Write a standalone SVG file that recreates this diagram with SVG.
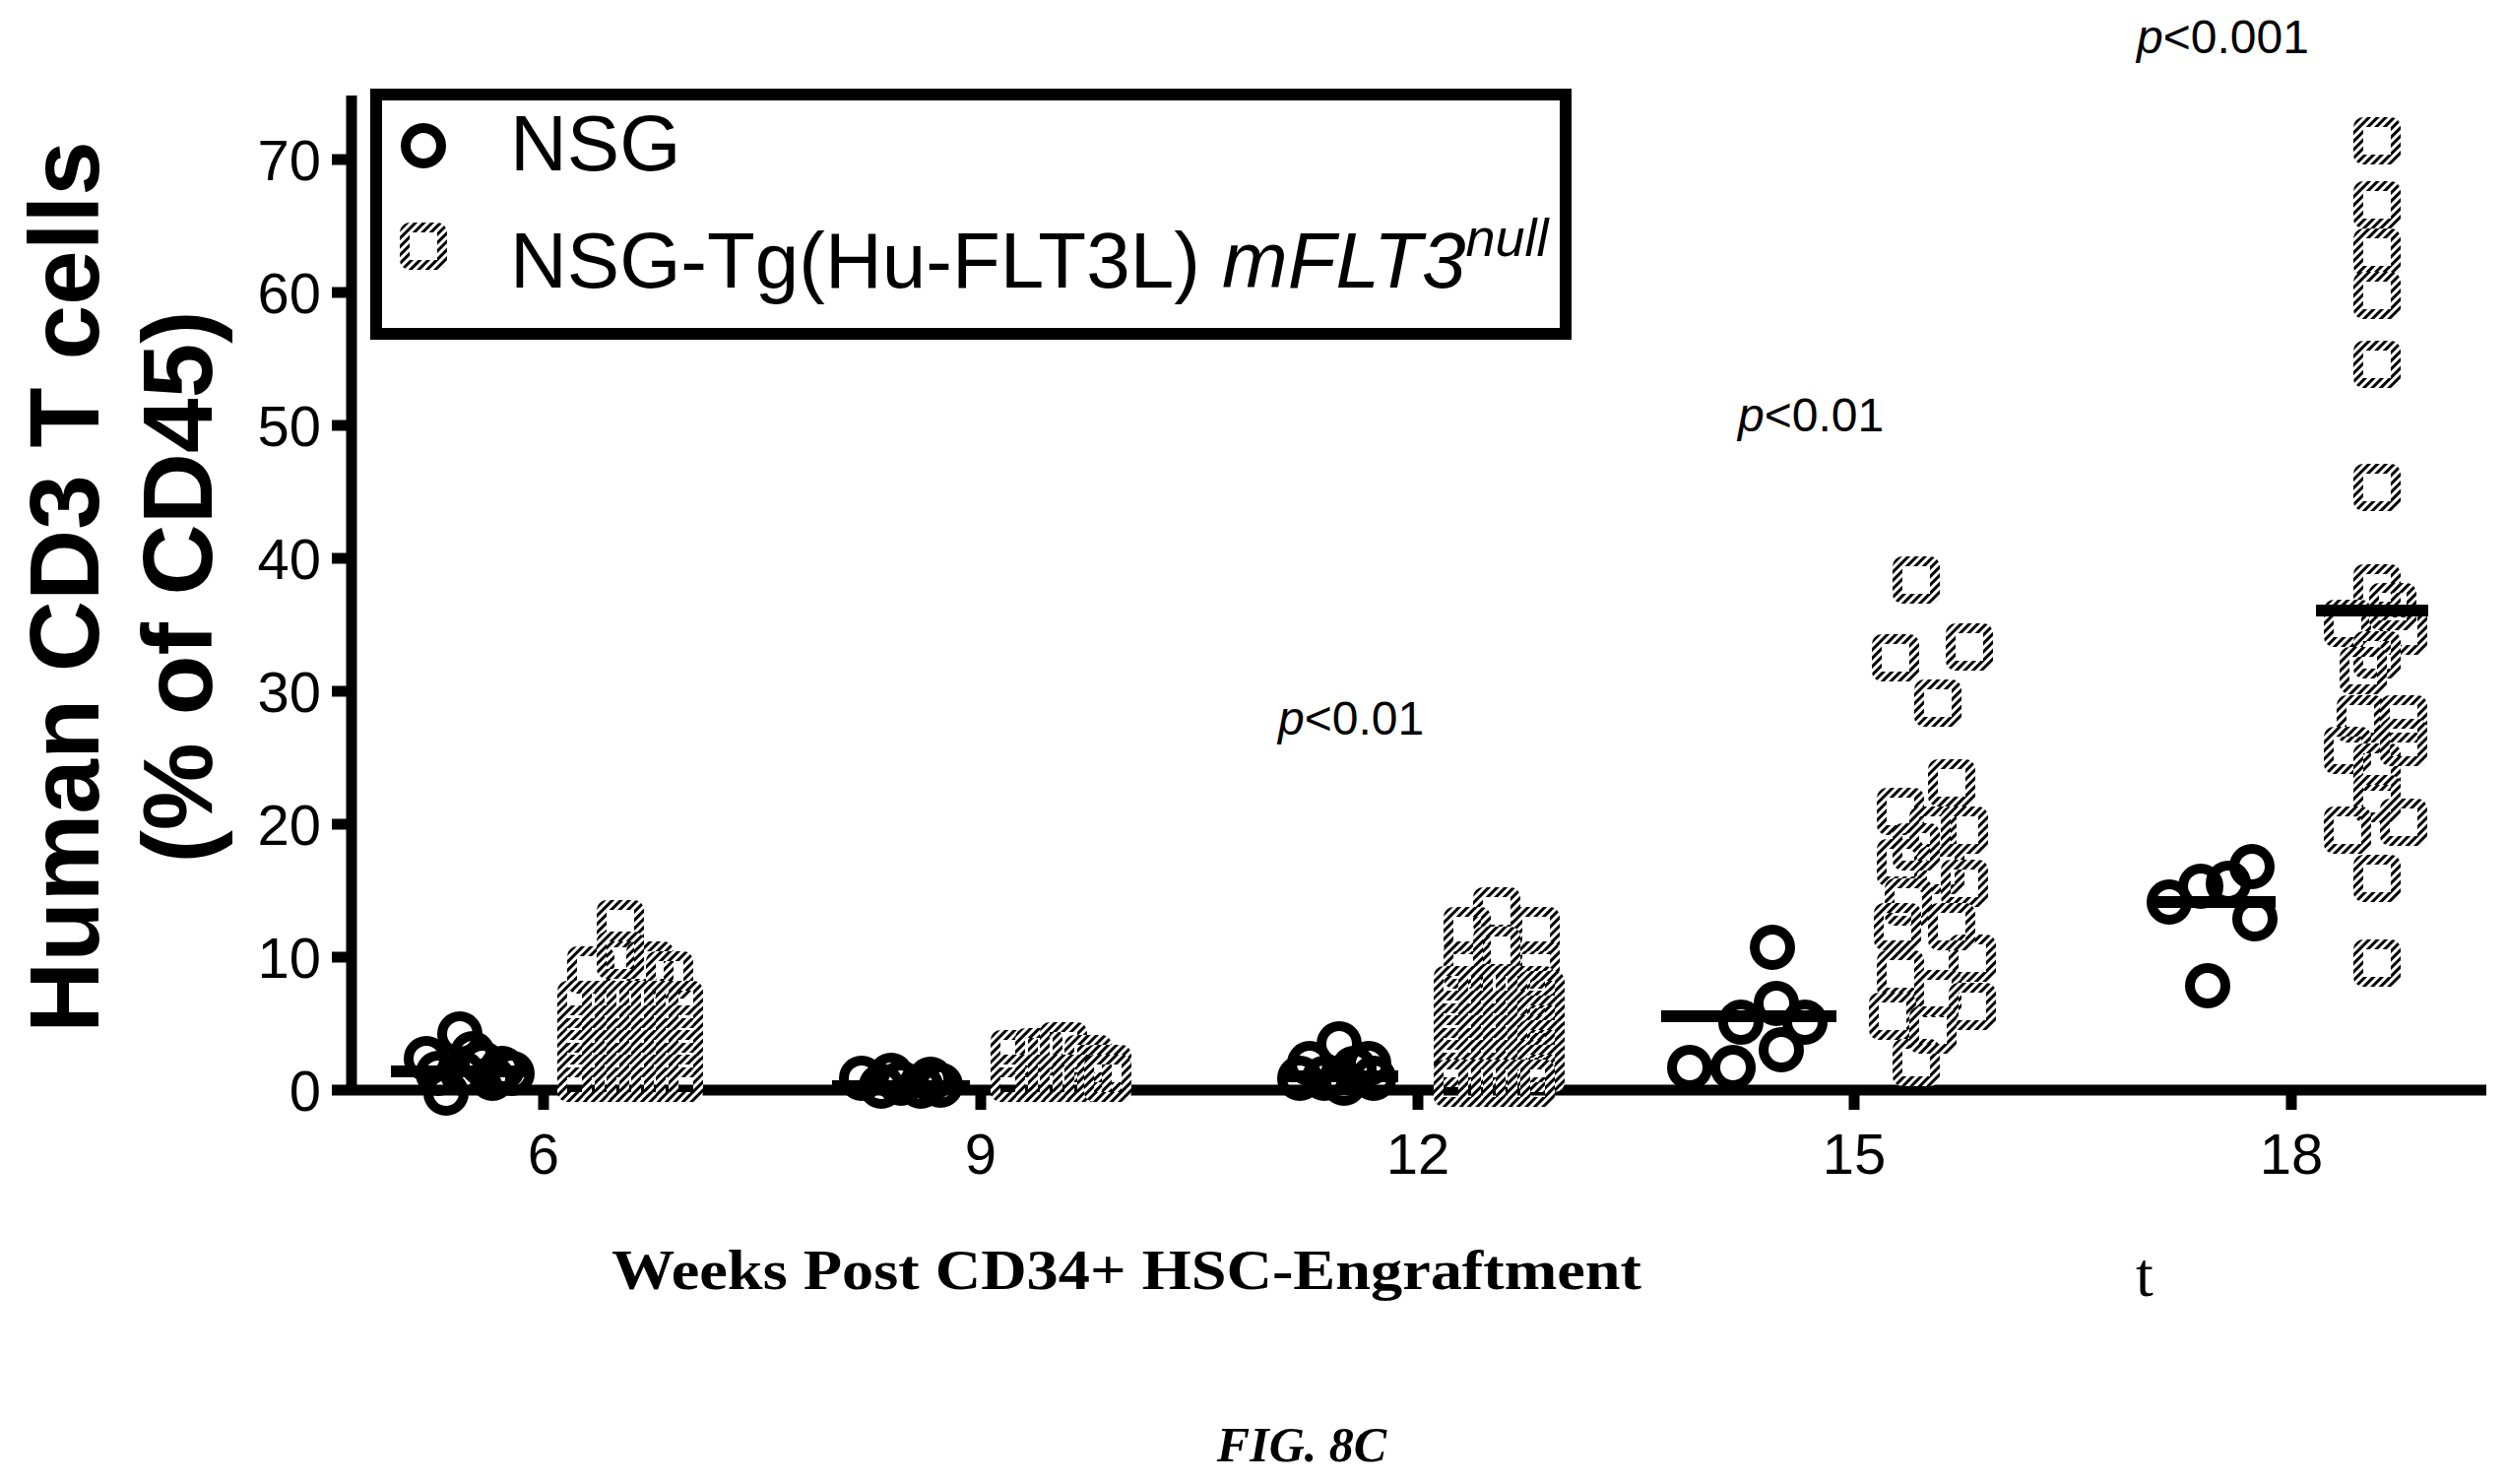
<svg xmlns="http://www.w3.org/2000/svg" xmlns:xlink="http://www.w3.org/1999/xlink" width="2546" height="1507" viewBox="0 0 2546 1507">
<style>
.ax{stroke:#000;stroke-width:11;fill:none}
.tk{font-family:"Liberation Sans",Arial,sans-serif;font-size:58px;fill:#000}
.pv{font-family:"Liberation Sans",Arial,sans-serif;font-size:48px;fill:#000}
.lg{font-family:"Liberation Sans",Arial,sans-serif;font-size:80px;fill:#000}
.mean{stroke:#000;stroke-width:12}
</style>
<defs>
<pattern id="hatch" patternUnits="userSpaceOnUse" width="6" height="6" patternTransform="rotate(45)">
<rect width="6" height="6" fill="#fff"/>
<rect width="3" height="6" fill="#000"/>
</pattern>
<rect id="sq" x="-19" y="-19" width="38" height="38" rx="5" fill="none" stroke="url(#hatch)" stroke-width="10"/>
<circle id="ci" r="18" fill="none" stroke="#000" stroke-width="10"/>
</defs>
<rect width="2546" height="1507" fill="#fff"/>

<g id="axes">
<line class="ax" x1="357" y1="97" x2="357" y2="1112"/>
<line class="ax" x1="337" y1="1107" x2="2525" y2="1107"/>
<g class="ax">
<line x1="337" y1="162" x2="357" y2="162"/><line x1="337" y1="297" x2="357" y2="297"/><line x1="337" y1="432" x2="357" y2="432"/><line x1="337" y1="567" x2="357" y2="567"/><line x1="337" y1="702" x2="357" y2="702"/><line x1="337" y1="837" x2="357" y2="837"/><line x1="337" y1="972" x2="357" y2="972"/>
<line x1="552" y1="1107" x2="552" y2="1127"/><line x1="996" y1="1107" x2="996" y2="1127"/><line x1="1440" y1="1107" x2="1440" y2="1127"/><line x1="1883" y1="1107" x2="1883" y2="1127"/><line x1="2327" y1="1107" x2="2327" y2="1127"/>
</g>
<g class="tk" text-anchor="end">
<text x="326" y="183">70</text><text x="326" y="318">60</text><text x="326" y="453">50</text><text x="326" y="588">40</text><text x="326" y="723">30</text><text x="326" y="858">20</text><text x="326" y="993">10</text><text x="326" y="1128">0</text>
</g>
<g class="tk" text-anchor="middle">
<text x="552" y="1192">6</text><text x="996" y="1192">9</text><text x="1440" y="1192">12</text><text x="1883" y="1192">15</text><text x="2327" y="1192">18</text>
</g>
<g font-family="Liberation Sans,Arial,sans-serif" font-weight="bold" font-size="100" text-anchor="middle" fill="#000">
<text transform="translate(100,596) rotate(-90)">Human CD3 T cells</text>
<text transform="translate(215,596) rotate(-90)">(% of CD45)</text>
</g>
<text x="1144" y="1309" text-anchor="middle" font-family="Liberation Serif,Times New Roman,serif" font-weight="bold" font-size="58" textLength="1046" lengthAdjust="spacingAndGlyphs">Weeks Post CD34+ HSC-Engraftment</text>
<text x="2169" y="1316" font-family="Liberation Serif,serif" font-size="64">t</text>
<text x="1322" y="1484" text-anchor="middle" font-family="Liberation Serif,Times New Roman,serif" font-weight="bold" font-style="italic" font-size="50">FIG. 8C</text>
</g>

<g id="legend">
<rect x="382" y="96" width="1208" height="243" fill="none" stroke="#000" stroke-width="12"/>
<use href="#ci" x="430" y="148"/>
<use href="#sq" x="430" y="250"/>
<text class="lg" x="518" y="173">NSG</text>
<text class="lg" x="518" y="292">NSG-Tg(Hu-FLT3L) <tspan font-style="italic">mFLT3</tspan><tspan font-style="italic" font-size="54" dy="-32">null</tspan></text>
</g>

<g id="pvalues" class="pv">
<text x="1298" y="746"><tspan font-style="italic">p</tspan>&lt;0.01</text>
<text x="1765" y="438"><tspan font-style="italic">p</tspan>&lt;0.01</text>
<text x="2170" y="54"><tspan font-style="italic">p</tspan>&lt;0.001</text>
</g>

<g id="nsg">
<use href="#ci" x="467" y="1050"/><use href="#ci" x="433" y="1075"/><use href="#ci" x="453" y="1110"/><use href="#ci" x="490" y="1080"/><use href="#ci" x="510" y="1085"/><use href="#ci" x="470" y="1090"/><use href="#ci" x="445" y="1090"/><use href="#ci" x="500" y="1095"/><use href="#ci" x="520" y="1090"/><use href="#ci" x="480" y="1070"/>
<use href="#ci" x="875" y="1095"/><use href="#ci" x="895" y="1103"/><use href="#ci" x="915" y="1100"/><use href="#ci" x="935" y="1103"/><use href="#ci" x="955" y="1102"/><use href="#ci" x="905" y="1092"/><use href="#ci" x="945" y="1096"/>
<use href="#ci" x="1360" y="1060"/><use href="#ci" x="1330" y="1080"/><use href="#ci" x="1345" y="1095"/><use href="#ci" x="1375" y="1085"/><use href="#ci" x="1395" y="1095"/><use href="#ci" x="1320" y="1095"/><use href="#ci" x="1365" y="1100"/><use href="#ci" x="1390" y="1080"/>
<use href="#ci" x="1800" y="962"/><use href="#ci" x="1768" y="1038"/><use href="#ci" x="1804" y="1019"/><use href="#ci" x="1833" y="1038"/><use href="#ci" x="1760" y="1084"/><use href="#ci" x="1809" y="1066"/><use href="#ci" x="1716" y="1084"/>
<use href="#ci" x="2242" y="1001"/><use href="#ci" x="2203" y="916"/><use href="#ci" x="2235" y="900"/><use href="#ci" x="2263" y="897"/><use href="#ci" x="2287" y="880"/><use href="#ci" x="2290" y="933"/>
</g>

<g id="tg">
<use href="#sq" x="630" y="938"/><use href="#sq" x="600" y="985"/><use href="#sq" x="660" y="980"/><use href="#sq" x="630" y="970"/><use href="#sq" x="680" y="990"/>
<use href="#sq" x="590" y="1020"/><use href="#sq" x="615" y="1020"/><use href="#sq" x="640" y="1020"/><use href="#sq" x="665" y="1020"/><use href="#sq" x="690" y="1020"/>
<use href="#sq" x="590" y="1045"/><use href="#sq" x="615" y="1045"/><use href="#sq" x="640" y="1045"/><use href="#sq" x="665" y="1045"/><use href="#sq" x="690" y="1045"/>
<use href="#sq" x="590" y="1070"/><use href="#sq" x="615" y="1070"/><use href="#sq" x="640" y="1070"/><use href="#sq" x="665" y="1070"/><use href="#sq" x="690" y="1070"/>
<use href="#sq" x="590" y="1095"/><use href="#sq" x="615" y="1095"/><use href="#sq" x="640" y="1095"/><use href="#sq" x="665" y="1095"/><use href="#sq" x="690" y="1095"/>
<use href="#sq" x="1030" y="1070"/><use href="#sq" x="1055" y="1068"/><use href="#sq" x="1080" y="1062"/><use href="#sq" x="1105" y="1075"/><use href="#sq" x="1125" y="1085"/>
<use href="#sq" x="1030" y="1095"/><use href="#sq" x="1055" y="1095"/><use href="#sq" x="1080" y="1095"/><use href="#sq" x="1105" y="1095"/><use href="#sq" x="1125" y="1095"/>
<use href="#sq" x="1520" y="925"/><use href="#sq" x="1490" y="945"/><use href="#sq" x="1560" y="945"/><use href="#sq" x="1490" y="980"/><use href="#sq" x="1560" y="980"/><use href="#sq" x="1520" y="965"/>
<use href="#sq" x="1480" y="1005"/><use href="#sq" x="1505" y="1005"/><use href="#sq" x="1530" y="1005"/><use href="#sq" x="1555" y="1005"/><use href="#sq" x="1565" y="1010"/>
<use href="#sq" x="1480" y="1030"/><use href="#sq" x="1505" y="1030"/><use href="#sq" x="1530" y="1030"/><use href="#sq" x="1555" y="1030"/><use href="#sq" x="1565" y="1035"/>
<use href="#sq" x="1480" y="1055"/><use href="#sq" x="1505" y="1055"/><use href="#sq" x="1530" y="1055"/><use href="#sq" x="1555" y="1055"/><use href="#sq" x="1565" y="1060"/>
<use href="#sq" x="1480" y="1080"/><use href="#sq" x="1505" y="1080"/><use href="#sq" x="1530" y="1080"/><use href="#sq" x="1555" y="1080"/><use href="#sq" x="1565" y="1085"/>
<use href="#sq" x="1480" y="1100"/><use href="#sq" x="1505" y="1100"/><use href="#sq" x="1530" y="1100"/><use href="#sq" x="1555" y="1100"/>
<use href="#sq" x="1946" y="589"/><use href="#sq" x="1925" y="668"/><use href="#sq" x="2000" y="657"/><use href="#sq" x="1968" y="714"/><use href="#sq" x="1982" y="795"/><use href="#sq" x="1930" y="824"/><use href="#sq" x="1963" y="843"/><use href="#sq" x="1995" y="843"/><use href="#sq" x="1930" y="876"/><use href="#sq" x="1971" y="884"/><use href="#sq" x="1938" y="916"/><use href="#sq" x="1995" y="897"/><use href="#sq" x="1930" y="989"/><use href="#sq" x="2003" y="973"/><use href="#sq" x="1968" y="1009"/><use href="#sq" x="1922" y="1032"/><use href="#sq" x="2003" y="1022"/><use href="#sq" x="1946" y="1079"/><use href="#sq" x="1963" y="1046"/><use href="#sq" x="1946" y="860"/><use href="#sq" x="1982" y="941"/><use href="#sq" x="1927" y="941"/>
<use href="#sq" x="2414" y="143"/><use href="#sq" x="2414" y="208"/><use href="#sq" x="2414" y="256"/><use href="#sq" x="2414" y="300"/><use href="#sq" x="2414" y="370"/><use href="#sq" x="2414" y="495"/><use href="#sq" x="2414" y="597"/><use href="#sq" x="2384" y="633"/><use href="#sq" x="2441" y="641"/><use href="#sq" x="2414" y="665"/><use href="#sq" x="2397" y="730"/><use href="#sq" x="2441" y="730"/><use href="#sq" x="2384" y="762"/><use href="#sq" x="2414" y="779"/><use href="#sq" x="2441" y="754"/><use href="#sq" x="2414" y="811"/><use href="#sq" x="2384" y="843"/><use href="#sq" x="2441" y="835"/><use href="#sq" x="2414" y="892"/><use href="#sq" x="2414" y="978"/><use href="#sq" x="2430" y="616"/><use href="#sq" x="2400" y="681"/>
</g>

<g id="means" class="mean">
<line x1="397" y1="1088" x2="537" y2="1088"/>
<line x1="845" y1="1103" x2="985" y2="1103"/>
<line x1="1300" y1="1093" x2="1420" y2="1093"/>
<line x1="1687" y1="1032" x2="1865" y2="1032"/>
<line x1="2182" y1="916" x2="2311" y2="916"/>
<line x1="2352" y1="620" x2="2466" y2="620"/>
</g>
</svg>
